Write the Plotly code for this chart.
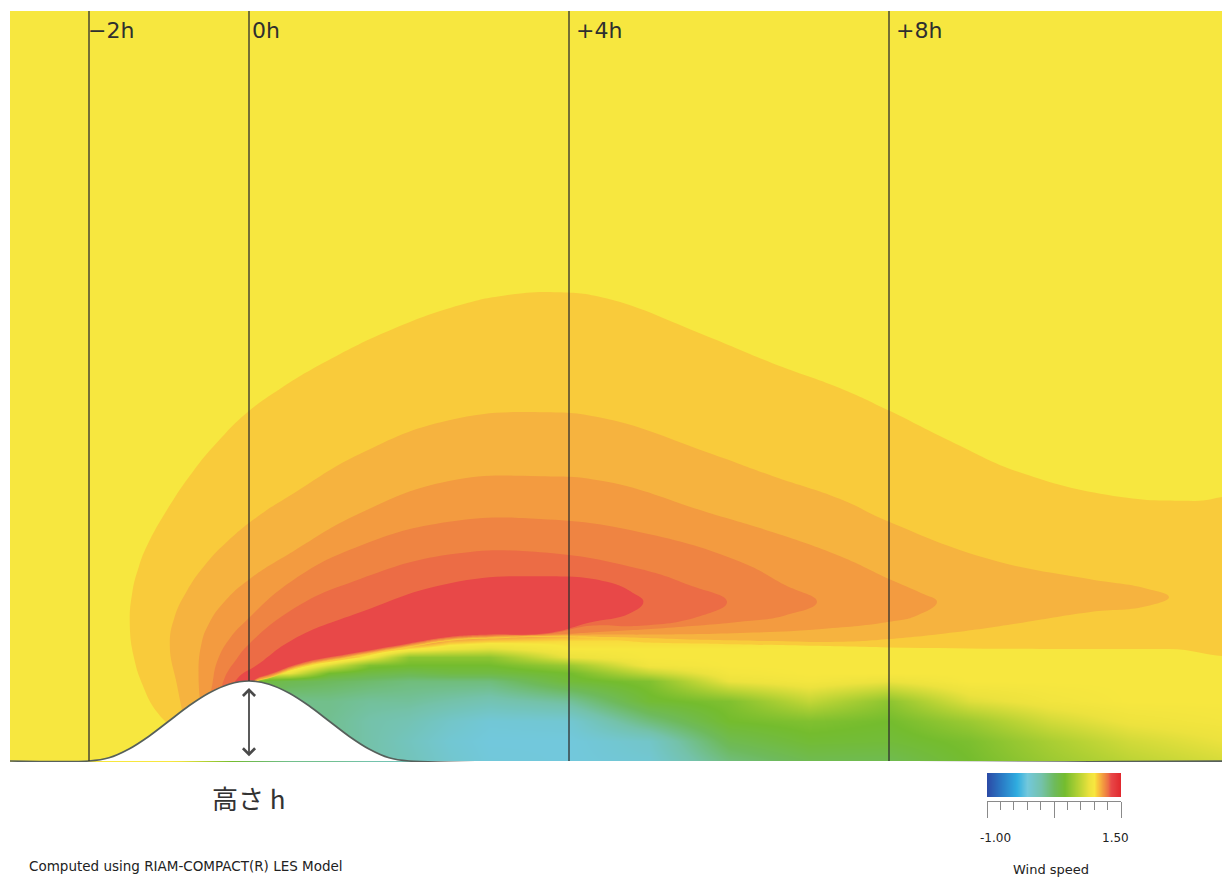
import numpy as np
import plotly.graph_objects as go
from plotly.colors import sample_colorscale

# ---------------------------------------------------------------------------
# Geometry: all lengths in units of the hill height h
# ---------------------------------------------------------------------------
X_RANGE = [-2.9875, 12.1625]
Y_RANGE = [-0.0125, 9.375]
FIG_W, FIG_H = 1222, 877
PLOT_LEFT_PX, PLOT_TOP_PX, PLOT_BOTTOM_PX = 10, 11, 762

# Normalised wind speed colour scale (value -> colour)
SPEED_MIN, SPEED_MAX = -1.0, 1.5
scale_values = [-1.0, -0.7, -0.45, -0.25, 0.0, 0.25, 0.45, 0.7, 0.9, 1.0,
                1.05, 1.10, 1.15, 1.20, 1.25, 1.30, 1.5]
scale_colors = ["#2b4ba6", "#2a7fc8", "#2fade0", "#72c8dc", "#74c2aa",
                "#6eba5c", "#74bc2e", "#b6d234", "#ece23e", "#f7e73f",
                "#f9cb3b", "#f6b33f", "#f39b40", "#ef8442", "#ec6c45",
                "#e84848", "#e0262c"]
colorscale = [[(v - SPEED_MIN) / (SPEED_MAX - SPEED_MIN), c]
              for v, c in zip(scale_values, scale_colors)]

# Terrain profile (cosine-shaped hill, height 1 h, foot at +-2 h)
terrain_x = [-3.0, -2.0, -1.75, -1.5, -1.25, -1.0, -0.75, -0.5, -0.25, 0.0,
             0.25, 0.5, 0.75, 1.0, 1.25, 1.5, 1.75, 2.0, 12.4]
terrain_y = [0.0, 0.0, 0.04, 0.15, 0.31, 0.5, 0.69, 0.85, 0.96, 1.0,
             0.96, 0.85, 0.69, 0.5, 0.31, 0.15, 0.04, 0.0, 0.0]

# Wind speed on a coarse grid (wake and shear layer behind the hill)
heat_x = [-3.0, -2.0, -1.0, 0.0, 0.25, 0.5, 1.0, 1.5, 2.0, 2.5, 3.0, 4.0,
          5.0, 6.0, 7.0, 8.0, 9.0, 10.0, 11.0, 12.2]
heat_y = [0.0, 0.25, 0.5, 0.75, 1.0, 1.1, 1.2, 1.3, 1.4, 1.5, 1.6, 1.8, 9.4]
heat_speed = [
    [1.0, 1.0, 1.0, 0.3, 0.2, 0.1, 0.08, 0.0, -0.08, -0.18, -0.24, -0.25, -0.2, 0.15, 0.3, 0.3, 0.45, 0.6, 0.72, 0.82],
    [1.0, 1.0, 1.0, 0.3, 0.2, 0.1, 0.08, 0.0, -0.1, -0.2, -0.25, -0.25, -0.15, 0.3, 0.42, 0.4, 0.48, 0.65, 0.8, 0.9],
    [1.0, 1.0, 1.0, 0.3, 0.2, 0.1, 0.08, 0.0, -0.05, -0.15, -0.22, -0.2, 0.15, 0.45, 0.5, 0.45, 0.6, 0.8, 0.92, 0.97],
    [1.0, 1.0, 1.0, 0.3, 0.2, 0.1, 0.1, 0.05, 0.05, 0.0, -0.05, 0.05, 0.42, 0.5, 0.75, 0.55, 0.85, 0.95, 1.0, 1.0],
    [1.0, 1.0, 1.0, 0.6, 0.35, 0.3, 0.25, 0.2, 0.15, 0.15, 0.15, 0.4, 0.5, 0.9, 0.97, 0.9, 1.0, 1.0, 1.0, 1.0],
    [1.0, 1.0, 1.0, 1.25, 0.95, 0.9, 0.45, 0.35, 0.3, 0.35, 0.35, 0.45, 0.75, 0.97, 1.0, 1.0, 1.0, 1.0, 1.0, 1.0],
    [1.0, 1.0, 1.0, 1.3, 1.3, 1.2, 0.85, 0.5, 0.45, 0.45, 0.45, 0.6, 0.95, 1.0, 1.0, 1.0, 1.0, 1.0, 1.0, 1.0],
    [1.0, 1.0, 1.0, 1.3, 1.3, 1.3, 1.25, 0.95, 0.55, 0.55, 0.55, 0.9, 1.0, 1.0, 1.0, 1.0, 1.0, 1.0, 1.0, 1.0],
    [1.0, 1.0, 1.0, 1.3, 1.3, 1.3, 1.3, 1.2, 1.0, 0.9, 0.85, 1.0, 1.0, 1.0, 1.0, 1.0, 1.0, 1.0, 1.0, 1.0],
    [1.0, 1.0, 1.0, 1.25, 1.3, 1.3, 1.3, 1.3, 1.3, 1.1, 1.05, 1.02, 1.02, 1.02, 1.0, 1.0, 1.0, 1.0, 1.0, 1.0],
    [1.0, 1.0, 1.0, 1.2, 1.25, 1.25, 1.3, 1.3, 1.3, 1.3, 1.25, 1.15, 1.08, 1.05, 1.03, 1.0, 1.0, 1.0, 1.0, 1.0],
    [1.0, 1.0, 1.0, 1.0, 1.0, 1.0, 1.0, 1.0, 1.0, 1.0, 1.0, 1.0, 1.0, 1.0, 1.0, 1.0, 1.0, 1.0, 1.0, 1.0],
    [1.0, 1.0, 1.0, 1.0, 1.0, 1.0, 1.0, 1.0, 1.0, 1.0, 1.0, 1.0, 1.0, 1.0, 1.0, 1.0, 1.0, 1.0, 1.0, 1.0],
]

# Speed-up zones over the hill: outline of each contour band (x, y in h)
band1_speed = 1.05
band1_x = [-1.0, -1.18, -1.33, -1.44, -1.49, -1.46, -1.38, -1.275, -1.0, -0.7, -0.4, -0.03, 0.4,
           0.975, 1.8, 2.64, 3.2, 3.85, 4.475, 5.725, 6.55, 7.39, 8.0, 8.825, 9.66, 10.9, 11.8,
           12.4, 12.5, 12.4, 11.5, 10.0, 8.0, 7.0, 6.0, 5.0, 4.5, 3.75, 3.0, 2.5, 2.0, 1.26,
           0.64, 0.3, 0.05, 0.0, -0.5, -0.9]
band1_y = [0.45, 0.65, 0.95, 1.3, 1.7, 2.1, 2.42, 2.69, 3.18, 3.62, 3.98, 4.35, 4.66,
           5.0, 5.4, 5.7, 5.82, 5.86, 5.78, 5.31, 4.97, 4.66, 4.38, 3.97, 3.6, 3.3, 3.25,
           3.24, 2.3, 1.4, 1.4, 1.4, 1.42, 1.44, 1.46, 1.48, 1.52, 1.55, 1.53, 1.5, 1.42, 1.29,
           1.17, 1.05, 0.95, 0.65, 0.5, 0.38]

band2_speed = 1.10
band2_x = [-0.82, -0.9, -0.99, -0.93, -0.78, -0.55, -0.275, 0.1, 0.55, 1.39, 2.5, 3.64, 4.475,
           5.725, 6.55, 7.39, 8.0, 9.25, 10.5, 11.2, 11.5, 11.2, 10.5, 9.6, 8.825, 8.0, 7.39,
           6.5, 5.5, 4.5, 3.75, 3.0, 2.5, 2.0, 1.26, 0.64, 0.3, 0.05, 0.0, -0.5]
band2_y = [0.55, 0.95, 1.44, 1.8, 2.12, 2.45, 2.74, 3.05, 3.34, 3.84, 4.26, 4.36, 4.275,
           3.86, 3.56, 3.275, 2.99, 2.525, 2.275, 2.16, 2.05, 1.93, 1.86, 1.72, 1.61, 1.525, 1.49,
           1.5, 1.52, 1.55, 1.56, 1.54, 1.51, 1.43, 1.3, 1.18, 1.06, 0.96, 0.7, 0.55]

band3_speed = 1.15
band3_x = [-0.6, -0.63, -0.6, -0.5, -0.3, 0.0, 0.55, 1.39, 2.5, 3.64, 4.475, 5.725, 6.55, 7.39,
           8.0, 8.4, 8.6, 8.35, 8.0, 7.16, 6.14, 5.0, 4.475, 3.75, 3.0, 2.5, 2.0, 1.26, 0.64,
           0.3, 0.05, 0.0, -0.4]
band3_y = [0.65, 1.0, 1.44, 1.72, 2.0, 2.27, 2.62, 3.1, 3.5, 3.56, 3.49, 3.11, 2.86, 2.56,
           2.275, 2.1, 1.99, 1.82, 1.74, 1.65, 1.6, 1.58, 1.58, 1.57, 1.55, 1.52, 1.44, 1.31,
           1.19, 1.07, 0.97, 0.75, 0.6]

band4_speed = 1.20
band4_x = [-0.5, -0.46, -0.4, -0.25, -0.03, 0.55, 1.39, 2.5, 3.64, 4.89, 6.14, 6.7, 7.1, 6.7,
           6.14, 5.3, 4.475, 3.75, 3.0, 2.5, 2.0, 1.26, 0.64, 0.3, 0.05, 0.0, -0.3]
band4_y = [0.75, 0.95, 1.24, 1.52, 1.76, 2.26, 2.69, 2.99, 3.025, 2.86, 2.49, 2.2, 1.99, 1.82,
           1.74, 1.67, 1.62, 1.58, 1.56, 1.53, 1.45, 1.32, 1.2, 1.08, 0.98, 0.8, 0.7]

band5_speed = 1.25
band5_x = [-0.36, -0.3, -0.15, -0.03, 0.55, 1.39, 2.5, 3.64, 4.89, 5.5, 5.975, 5.6, 4.89, 4.26,
           3.75, 3.0, 2.5, 2.0, 1.26, 0.64, 0.3, 0.05, 0.0, -0.2]
band5_y = [0.85, 1.05, 1.28, 1.43, 1.9, 2.275, 2.58, 2.61, 2.4, 2.2, 1.99, 1.8, 1.69, 1.69,
           1.59, 1.57, 1.54, 1.46, 1.33, 1.21, 1.09, 0.99, 0.85, 0.8]

band6_speed = 1.30
band6_x = [-0.22, -0.12, 0.1, 0.55, 1.39, 2.5, 3.64, 4.475, 4.8, 4.93, 4.75, 4.26, 3.75, 3.0,
           2.5, 2.0, 1.26, 0.64, 0.3, 0.05, 0.0, -0.15]
band6_y = [0.92, 1.06, 1.2, 1.52, 1.86, 2.22, 2.31, 2.24, 2.1, 1.99, 1.84, 1.73, 1.6, 1.58,
           1.55, 1.47, 1.34, 1.22, 1.1, 1.0, 0.9, 0.85]

bands = [
    (band1_speed, band1_x, band1_y),
    (band2_speed, band2_x, band2_y),
    (band3_speed, band3_x, band3_y),
    (band4_speed, band4_x, band4_y),
    (band5_speed, band5_x, band5_y),
    (band6_speed, band6_x, band6_y),
]

# Reference sections (distance from hill top) and their labels
section_x = [-2.0, 0.0, 4.0, 8.0]
section_labels = ["\u22122h", "0h", "+4h", "+8h"]
section_label_shift = [-3, 1, 5, 5]

# Colour bar scale
legend_ticks = [-1.0, -0.75, -0.5, -0.25, 0.0, 0.25, 0.5, 0.75, 1.0, 1.25, 1.5]
legend_major = [-1.0, 0.25, 1.5]


def speed_color(v):
    return sample_colorscale(colorscale, [(v - SPEED_MIN) / (SPEED_MAX - SPEED_MIN)])[0]


def px_x(px):
    return px / FIG_W


def px_y(py):
    return 1 - py / FIG_H


def ground_at(x):
    return float(np.interp(x, terrain_x, terrain_y))


fig = go.Figure()

# Background field
fig.add_trace(go.Heatmap(
    x=heat_x, y=heat_y, z=heat_speed,
    colorscale=colorscale, zmin=SPEED_MIN, zmax=SPEED_MAX,
    zsmooth="best", showscale=False, hoverinfo="skip",
))

# Contour bands of the speed-up region
for speed, bx, by in bands:
    fig.add_trace(go.Scatter(
        x=bx, y=by, mode="lines", fill="toself", fillcolor=speed_color(speed),
        line=dict(width=0, shape="spline", smoothing=1.3, color=speed_color(speed)),
        hoverinfo="skip", showlegend=False,
    ))

# Terrain
fig.add_trace(go.Scatter(
    x=terrain_x, y=terrain_y, mode="lines", fill="tozeroy", fillcolor="white",
    line=dict(color="#56605b", width=1.7, shape="spline", smoothing=0.8),
    hoverinfo="skip", showlegend=False,
))

# Section lines
for sx in section_x:
    fig.add_trace(go.Scatter(
        x=[sx, sx], y=[ground_at(sx), Y_RANGE[1]], mode="lines",
        line=dict(color="#2e2e2e", width=1.3),
        hoverinfo="skip", showlegend=False,
    ))

annotations = []
for sx, label, shift in zip(section_x, section_labels, section_label_shift):
    annotations.append(dict(
        x=sx, y=Y_RANGE[1], xref="x", yref="y", text=label, showarrow=False,
        xanchor="left", yanchor="top", xshift=shift, yshift=-5,
        font=dict(family="DejaVu Sans", size=22, color="#2f2f2f"),
    ))

# Height arrow below the hill top
annotations.append(dict(
    x=0.0, y=0.06, ax=0.0, ay=0.93, xref="x", yref="y", axref="x", ayref="y",
    text="", showarrow=True, arrowhead=4, arrowside="end+start",
    arrowsize=1.3, arrowwidth=1.8, arrowcolor="#4a4a4a",
))

hill_top_px = PLOT_LEFT_PX + (0.0 - X_RANGE[0]) * 80
annotations.append(dict(
    x=px_x(hill_top_px), y=px_y(797), xref="paper", yref="paper",
    text="高さ h", showarrow=False, xanchor="center", yanchor="middle",
    font=dict(family="Noto Sans CJK JP", size=26, color="#333333"),
))
annotations.append(dict(
    x=px_x(27), y=px_y(866), xref="paper", yref="paper",
    text="Computed using RIAM-COMPACT(R) LES Model", showarrow=False,
    xanchor="left", yanchor="middle",
    font=dict(family="DejaVu Sans", size=13.5, color="#222222"),
))
annotations.append(dict(
    x=px_x(995), y=px_y(838), xref="paper", yref="paper", text="%.2f" % legend_ticks[0],
    showarrow=False, xanchor="center", yanchor="middle",
    font=dict(family="DejaVu Sans", size=12, color="#222222"),
))
annotations.append(dict(
    x=px_x(1115), y=px_y(838), xref="paper", yref="paper", text="%.2f" % legend_ticks[-1],
    showarrow=False, xanchor="center", yanchor="middle",
    font=dict(family="DejaVu Sans", size=12, color="#222222"),
))
annotations.append(dict(
    x=px_x(1051), y=px_y(869), xref="paper", yref="paper", text="Wind speed",
    showarrow=False, xanchor="center", yanchor="middle",
    font=dict(family="DejaVu Sans", size=13, color="#222222"),
))

# Colour bar drawn as a small ramp on its own axes
fig.add_trace(go.Heatmap(
    x=legend_ticks, y=[10, 22], z=[legend_ticks, legend_ticks],
    colorscale=colorscale, zmin=SPEED_MIN, zmax=SPEED_MAX,
    zsmooth="best", showscale=False, hoverinfo="skip",
    xaxis="x2", yaxis="y2",
))

fig.update_layout(
    width=FIG_W, height=FIG_H,
    margin=dict(l=0, r=0, t=0, b=0),
    paper_bgcolor="white", plot_bgcolor="white",
    showlegend=False,
    xaxis=dict(domain=[px_x(PLOT_LEFT_PX), 1.0], range=X_RANGE, visible=False,
               fixedrange=True),
    yaxis=dict(domain=[px_y(PLOT_BOTTOM_PX), px_y(PLOT_TOP_PX)], range=Y_RANGE,
               visible=False, fixedrange=True),
    xaxis2=dict(domain=[px_x(987), px_x(1121)], range=[legend_ticks[0], legend_ticks[-1]],
                anchor="y2", showline=True, linecolor="#8a8a8a", linewidth=1,
                ticks="outside", tickvals=legend_major, ticklen=16, tickwidth=1,
                tickcolor="#8a8a8a", showticklabels=False, showgrid=False, zeroline=False,
                minor=dict(tickvals=legend_ticks, ticks="outside", ticklen=8,
                           tickwidth=1, tickcolor="#8a8a8a", showgrid=False)),
    yaxis2=dict(domain=[px_y(801), px_y(773)], range=[0, 28], anchor="x2",
                visible=False),
    annotations=annotations,
)

fig.write_html("out.html")
